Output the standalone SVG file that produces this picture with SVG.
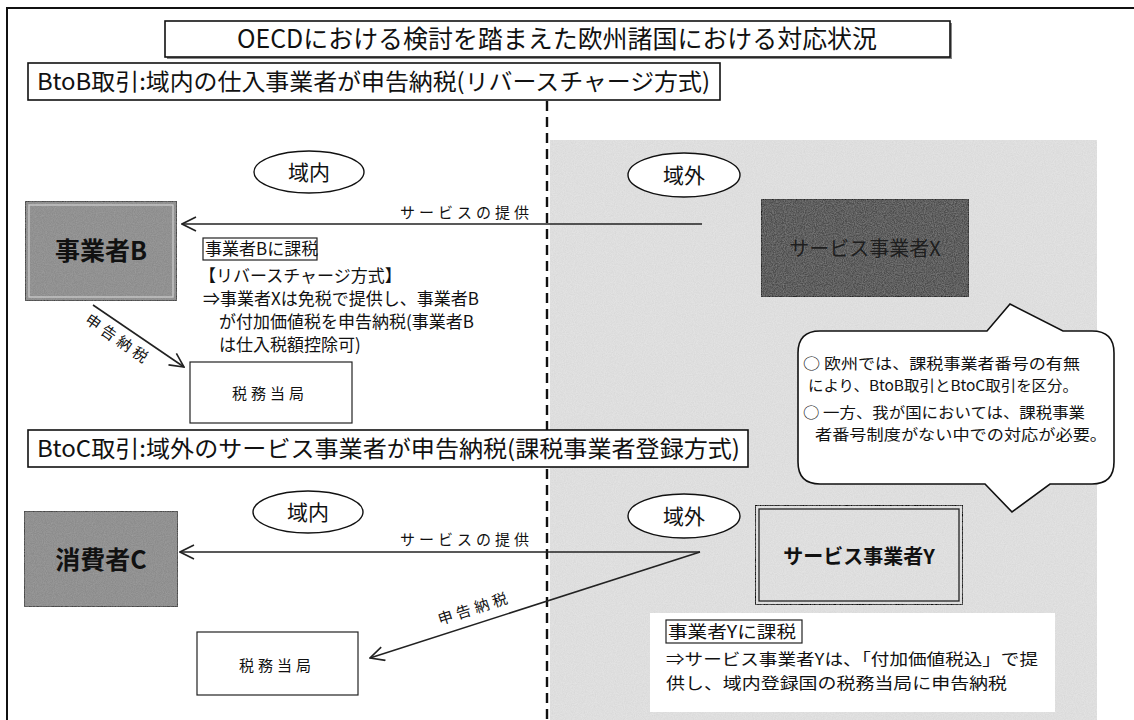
<svg xmlns="http://www.w3.org/2000/svg" width="1134" height="720" viewBox="0 0 1134 720">
<style>
text{font-family:"Noto Sans CJK JP","Liberation Sans",sans-serif;fill:#111}
.frame{fill:none;stroke:#111;stroke-width:2}
.hdr{fill:#fff;stroke:#111;stroke-width:1.6}
.hdrt{font-size:23px}
.oval{fill:#fff;stroke:#111;stroke-width:1.4}
.ovt{font-size:21px;text-anchor:middle}
.lbl{font-size:15px;letter-spacing:4px}
.plain{fill:#fff;stroke:#222;stroke-width:1.2}
.body{font-size:17px}
.conn{fill:none;stroke:#222;stroke-width:1.6}
.call{font-size:15px}
</style>
<defs>
<marker id="ah" viewBox="0 0 16 16" refX="15" refY="8" markerWidth="16" markerHeight="16" markerUnits="userSpaceOnUse" orient="auto">
<path d="M1,1 L15,8 L1,15" fill="none" stroke="#222" stroke-width="1.6"/>
</marker>
<filter id="grain" x="0" y="0" width="100%" height="100%">
<feTurbulence type="fractalNoise" baseFrequency="0.9" numOctaves="2" seed="4" result="n"/>
<feColorMatrix in="n" type="matrix" values="0 0 0 0 0.5  0 0 0 0 0.5  0 0 0 0 0.5  0 0 0 0.5 -0.15" result="g"/>
<feComposite in="g" in2="SourceGraphic" operator="in" result="gc"/>
<feMerge><feMergeNode in="SourceGraphic"/><feMergeNode in="gc"/></feMerge>
</filter>
</defs>
<rect width="1134" height="720" fill="#fff"/>
<!-- outer frame -->
<path class="frame" d="M7,720 L7,8 L1134,8"/>
<!-- shaded outside region -->
<rect id="outside-region" x="550" y="140" width="547" height="580" fill="#e2e2e2" filter="url(#grain)"/>
<!-- dashed border -->
<line x1="547" y1="101" x2="547" y2="720" stroke="#111" stroke-width="2.4" stroke-dasharray="10,6"/>

<g id="title">
<rect x="167" y="23" width="785" height="36" fill="#888"/>
<rect x="165" y="21" width="785" height="36" class="hdr"/>
<text x="557" y="48" font-size="25" text-anchor="middle" textLength="640" lengthAdjust="spacingAndGlyphs">OECDにおける検討を踏まえた欧州諸国における対応状況</text>
</g>

<g id="btob-header">
<rect x="28" y="63" width="692" height="37" class="hdr"/>
<text x="37" y="90" class="hdrt" textLength="673" lengthAdjust="spacingAndGlyphs">BtoB取引:域内の仕入事業者が申告納税(リバースチャージ方式)</text>
</g>

<g id="btoc-header">
<rect x="28" y="430" width="720" height="37" class="hdr"/>
<text x="37" y="457" class="hdrt" textLength="703" lengthAdjust="spacingAndGlyphs">BtoC取引:域外のサービス事業者が申告納税(課税事業者登録方式)</text>
</g>

<g id="oval-in-top"><ellipse cx="309" cy="172" rx="55" ry="21" class="oval"/><text x="309" y="180" class="ovt">域内</text></g>
<g id="oval-out-top"><ellipse cx="684" cy="175" rx="56" ry="22" class="oval"/><text x="684" y="183" class="ovt">域外</text></g>
<g id="oval-in-bottom"><ellipse cx="308" cy="512" rx="55" ry="21" class="oval"/><text x="308" y="520" class="ovt">域内</text></g>
<g id="oval-out-bottom"><ellipse cx="684" cy="516" rx="56" ry="22" class="oval"/><text x="684" y="524" class="ovt">域外</text></g>

<g id="business-b">
<rect x="25" y="201" width="152" height="100" fill="#8c8c8c" stroke="#333" stroke-width="1.6" filter="url(#grain)"/>
<rect x="29" y="205" width="144" height="92" fill="none" stroke="#cfcfcf" stroke-width="1.2"/>
<text x="101" y="260" font-size="25" font-weight="bold" text-anchor="middle">事業者B</text>
</g>

<g id="service-x">
<rect x="761" y="199" width="208" height="98" fill="#4e4e4e" stroke="#222" stroke-width="2" filter="url(#grain)"/>
<text x="865" y="256" font-size="20" text-anchor="middle" style="fill:#1e1e1e">サービス事業者X</text>
</g>

<g id="tax-note-b">
<rect x="203" y="238" width="114" height="22" fill="#fff" stroke="#222" stroke-width="1.2"/>
<text x="205" y="255" class="body">事業者Bに課税</text>
<text x="199" y="282" class="body">【リバースチャージ方式】</text>
<text x="203" y="305" class="body">⇒事業者Xは免税で提供し、事業者B</text>
<text x="219" y="328" class="body">が付加価値税を申告納税(事業者B</text>
<text x="219" y="351" class="body">は仕入税額控除可)</text>
</g>

<g id="tax-office-top">
<rect x="190" y="362" width="162" height="61" class="plain"/>
<text x="270" y="399" class="lbl" text-anchor="middle">税務当局</text>
</g>

<g id="callout">
<path d="M820,331 L987,331 L1010,304 L1063,331 L1092,331 Q1114,331 1114,353 L1114,462 Q1114,484 1092,484 L1050,484 L1012,512 L985,484 L820,484 Q798,484 798,462 L798,353 Q798,331 820,331 Z" fill="#fff" stroke="#111" stroke-width="1.6"/>
<text x="803" y="369" class="call" textLength="277" lengthAdjust="spacingAndGlyphs">○ 欧州では、課税事業者番号の有無</text>
<text x="808" y="391" class="call" textLength="270" lengthAdjust="spacingAndGlyphs">により、BtoB取引とBtoC取引を区分。</text>
<text x="803" y="418" class="call" textLength="282" lengthAdjust="spacingAndGlyphs">○ 一方、我が国においては、課税事業</text>
<text x="815" y="440" class="call" textLength="292" lengthAdjust="spacingAndGlyphs">者番号制度がない中での対応が必要。</text>
</g>

<g id="consumer-c">
<rect x="24" y="511" width="154" height="96" fill="#8c8c8c" stroke="#333" stroke-width="1.6" filter="url(#grain)"/>
<text x="101" y="569" font-size="25" font-weight="bold" text-anchor="middle">消費者C</text>
</g>

<g id="service-y">
<rect x="755" y="505" width="208" height="100" fill="#e2e2e2" stroke="#111" stroke-width="2" filter="url(#grain)"/>
<rect x="759" y="509" width="200" height="92" fill="none" stroke="#222" stroke-width="1.3"/>
<text x="859" y="564" font-size="20" font-weight="bold" text-anchor="middle">サービス事業者Y</text>
</g>

<g id="tax-note-y">
<rect x="650" y="613" width="405" height="99" fill="#fff"/>
<rect x="666" y="620" width="136" height="23" fill="none" stroke="#222" stroke-width="1.2"/>
<text x="668" y="638" font-size="17" textLength="128" lengthAdjust="spacingAndGlyphs">事業者Yに課税</text>
<text x="666" y="665" font-size="16" textLength="372" lengthAdjust="spacingAndGlyphs">⇒サービス事業者Yは、「付加価値税込」で提</text>
<text x="666" y="689" font-size="16" textLength="341" lengthAdjust="spacingAndGlyphs">供し、域内登録国の税務当局に申告納税</text>
</g>

<g id="tax-office-bottom">
<rect x="197" y="632" width="161" height="63" class="plain"/>
<text x="277" y="671" class="lbl" text-anchor="middle">税務当局</text>
</g>

<g id="connectors">
<line x1="702" y1="224" x2="182" y2="224" class="conn" marker-end="url(#ah)"/>
<text x="400" y="218" class="lbl">サービスの提供</text>
<line x1="93" y1="305" x2="184" y2="367" class="conn" marker-end="url(#ah)"/>
<text class="lbl" transform="translate(84,322) rotate(35)">申告納税</text>
<line x1="700" y1="552" x2="180" y2="552" class="conn" marker-end="url(#ah)"/>
<text x="400" y="545" class="lbl">サービスの提供</text>
<line x1="700" y1="552" x2="370" y2="658" class="conn" marker-end="url(#ah)"/>
<text class="lbl" transform="translate(440,625) rotate(-18)">申告納税</text>
</g>
</svg>
